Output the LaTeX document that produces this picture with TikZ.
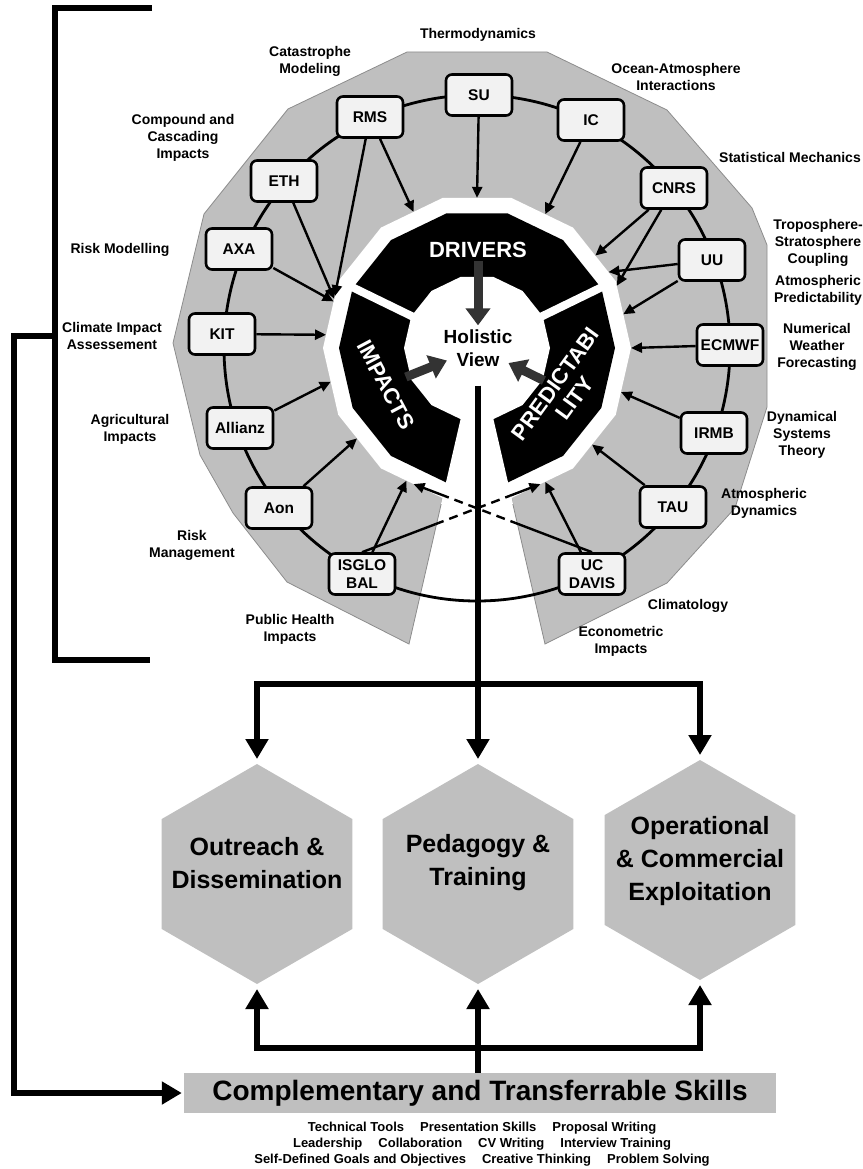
\documentclass[tikz,border=0pt]{standalone}
\usepackage{fontspec}
\setmainfont{Liberation Sans}
\usetikzlibrary{arrows.meta,shapes.geometric,calc}
\definecolor{ringgray}{HTML}{BFBFBF}
\definecolor{edgegray}{HTML}{8C8C8C}
\definecolor{partnerfill}{HTML}{F2F2F2}
\definecolor{hubgray}{HTML}{333333}
\newcommand{\skillgap}{\hspace{16pt}}

\begin{document}
\begin{tikzpicture}[x=1pt, y=1pt,
    partner/.style={rectangle, draw, line width=2.6pt, fill=partnerfill, rounded corners=6pt,
        minimum width=66pt, minimum height=41pt, inner sep=2pt, align=center,
        font=\bfseries\fontsize{15.5}{18}\selectfont},
    topic/.style={align=center, font=\bfseries\fontsize{14}{17}\selectfont},
    poly/.style={regular polygon, regular polygon sides=14, inner sep=0pt, outer sep=0pt},
    sector/.style={text=white, align=center, font=\bfseries\fontsize{22}{24}\selectfont},
    link/.style={line width=2.4pt, -{Triangle[length=11pt, width=10pt]}},
    hubarrow/.style={draw=hubgray, line width=9pt, -{Triangle[length=17pt, width=24pt]}},
    flow/.style={line width=6pt},
    flowarrow/.style={flow, -{Triangle[length=20pt, width=22pt]}, shorten >=5pt},
    outcome/.style={regular polygon, regular polygon sides=6, shape border rotate=30,
        minimum size=220pt, fill=ringgray, inner sep=0pt, outer sep=0pt},
    outcometext/.style={align=center, font=\bfseries\fontsize{25}{33}\selectfont}]
    \useasboundingbox (0,0) rectangle (862,-1169);
    \coordinate (ctr) at (477,-348);

    % Gray ring with the cut at the bottom
    \filldraw[fill=ringgray, draw=edgegray, line width=0.8pt] (ctr) -- (545,-644) -- (667,-583) -- (735,-508)
        -- (767,-407) -- (767,-245) -- (752,-208) -- (667,-110) -- (547,-52) -- (407,-52) -- (288,-109)
        -- (204,-214) -- (173,-343) -- (200,-455) -- (233,-513) -- (287,-582) -- (409,-644) -- cycle;
    \draw[line width=2.8pt] (ctr) circle[radius=253];

    % Core: drivers, impacts, predictability
    \node[poly, minimum size=308pt, fill=white] (polyW) at (ctr) {};
    \node[poly, minimum size=276pt, fill=black] (polyB) at (ctr) {};
    \fill[white] (ctr) -- ++(-103:160) -- ($(ctr)+(-77:160)$) -- cycle;
    \node[poly, minimum size=146pt, fill=white] (polyC) at (ctr) {};
    \draw[white, line width=8pt] (ctr) -- ++(154:146);
    \draw[white, line width=8pt] (ctr) -- ++(26:146);

    \node[sector] (drivers) at (478,-250) {DRIVERS};
    \node[sector, rotate=-62] (impacts) at (386,-385) {IMPACTS};
    \node[sector, rotate=54] (predict) at (565,-391) {PREDICTABI\\LITY};
    \node[align=center, inner sep=4pt, font=\bfseries\fontsize{19}{23}\selectfont] (holistic) at (478,-348) {Holistic\\View};

    \draw[hubarrow] (drivers) -- (holistic);
    \draw[hubarrow, shorten <=10pt, shorten >=-8pt] (impacts) -- (holistic);
    \draw[hubarrow, shorten >=-9pt] (predict) -- (holistic);

    % Partners
    \node[partner] (su) at (479,-95) {SU};
    \node[partner] (rms) at (370,-117) {RMS};
    \node[partner] (ic) at (591,-120) {IC};
    \node[partner] (eth) at (284,-181) {ETH};
    \node[partner] (axa) at (239,-249) {AXA};
    \node[partner] (kit) at (222,-334) {KIT};
    \node[partner] (allianz) at (240,-428) {Allianz};
    \node[partner] (aon) at (279,-508) {Aon};
    \node[partner] (isglobal) at (362,-574) {ISGLO\\BAL};
    \node[partner] (cnrs) at (674,-188) {CNRS};
    \node[partner] (uu) at (712,-260) {UU};
    \node[partner] (ecmwf) at (730,-345) {ECMWF};
    \node[partner] (irmb) at (714,-433) {IRMB};
    \node[partner] (tau) at (673,-507) {TAU};
    \node[partner] (ucdavis) at (592,-574) {UC\\DAVIS};

    \draw[link] (su) -- (polyW.90);
    \draw[link] (rms) -- (polyW.115);
    \draw[link] (rms) -- (polyW.160);
    \draw[link] (eth) -- (polyW.161);
    \draw[link] (axa) -- (polyW.162);
    \draw[link] (kit) -- (polyW.175);
    \draw[link] (allianz) -- (polyW.193);
    \draw[link] (aon) -- (polyW.217);
    \draw[link] (isglobal) -- (polyW.242);
    \draw[link] (ic) -- (polyW.63);
    \draw[link] (cnrs) -- (polyW.38);
    \draw[link] (cnrs) -- (polyW.24);
    \draw[link] (uu) -- (polyW.30);
    \draw[link] (uu) -- (polyW.13);
    \draw[link] (ecmwf) -- (polyW.0);
    \draw[link] (irmb) -- (polyW.-17);
    \draw[link] (tau) -- (polyW.-40);
    \draw[link] (ucdavis) -- (polyW.-63);

    % Crossing links over the gap
    \coordinate (isgA) at ($(isglobal.north)!0.41!(polyW.-65)$);
    \coordinate (isgB) at ($(isglobal.north)!0.83!(polyW.-65)$);
    \coordinate (ucdA) at ($(ucdavis.north)!0.41!(polyW.245)$);
    \coordinate (ucdB) at ($(ucdavis.north)!0.83!(polyW.245)$);
    \draw[line width=2.4pt] (isglobal.north) -- (isgA);
    \draw[line width=2.4pt, dash pattern=on 9pt off 6pt] (isgA) -- (isgB);
    \draw[link] (isgB) -- (polyW.-65);
    \draw[line width=2.4pt] (ucdavis.north) -- (ucdA);
    \draw[line width=2.4pt, dash pattern=on 9pt off 6pt] (ucdA) -- (ucdB);
    \draw[link] (ucdB) -- (polyW.245);

    % Research topics
    \node[topic] (tthermo) at (478,-35) {Thermodynamics};
    \node[topic] (tcat) at (310,-61) {Catastrophe\\Modeling};
    \node[topic] (tocean) at (676,-77) {Ocean-Atmosphere\\Interactions};
    \node[topic] (tstat) at (790,-157) {Statistical Mechanics};
    \node[topic] (tcomp) at (183,-138) {Compound and\\Cascading\\Impacts};
    \node[topic] (trisk) at (120,-250) {Risk Modelling};
    \node[topic] (tclim) at (112,-336) {Climate Impact\\Assessement};
    \node[topic] (tagri) at (130,-429) {Agricultural\\Impacts};
    \node[topic] (tman) at (192,-545) {Risk\\Management};
    \node[topic] (thealth) at (290,-629) {Public Health\\Impacts};
    \node[topic] (tecon) at (621,-641) {Econometric\\Impacts};
    \node[topic] (tclimat) at (688,-606) {Climatology};
    \node[topic] (tdyn) at (764,-503) {Atmospheric\\Dynamics};
    \node[topic] (tsys) at (802,-435) {Dynamical\\Systems\\Theory};
    \node[topic] (tnwf) at (817,-347) {Numerical\\Weather\\Forecasting};
    \node[topic] (tpred) at (818,-290) {Atmospheric\\Predictability};
    \node[topic] (ttrop) at (818,-243) {Troposphere-\\Stratosphere\\Coupling};

    % Outcomes
    \node[outcome] (outreach) at (257,-874) {};
    \node[outcome] (pedagogy) at (478,-874) {};
    \node[outcome] (operational) at (700,-870) {};
    \node[outcometext] (outreachtxt) at ([yshift=11pt]outreach.center) {Outreach \&\\Dissemination};
    \node[outcometext] (pedagogytxt) at ([yshift=11pt]pedagogy.center) {Pedagogy \&\\Training};
    \node[outcometext] (operationaltxt) at ([yshift=9pt]operational.center) {Operational\\\& Commercial\\Exploitation};

    \coordinate (hub) at (478,-684);
    \draw[flow, shorten <=15pt] (holistic.south) -- (hub);
    \draw[flowarrow] (hub) -| (outreach);
    \draw[flowarrow] (hub) -- (pedagogy);
    \draw[flowarrow] (hub) -| (operational);

    % Skills
    \node[rectangle, fill=ringgray, minimum width=592pt, minimum height=40pt, inner sep=0pt,
        font=\bfseries\fontsize{28}{30}\selectfont] (skills) at (480,-1093) {Complementary and Transferrable Skills};
    \node[align=center, font=\bfseries\fontsize{13}{16}\selectfont] (skilllist) at (482,-1144)
        {Technical Tools\skillgap Presentation Skills\skillgap Proposal Writing\\
         Leadership\skillgap Collaboration\skillgap CV Writing\skillgap Interview Training\\
         Self-Defined Goals and Objectives\skillgap Creative Thinking\skillgap Problem Solving};

    \coordinate (skillhub) at (478,-1048);
    \draw[flowarrow] (skills.north -| pedagogy) -- (pedagogy);
    \draw[flowarrow] (skillhub) -| (outreach);
    \draw[flowarrow] (skillhub) -| (operational);

    % Bracket round the ring
    \coordinate (brk) at (55,-336);
    \coordinate (corner) at (14,-1093);
    \draw[line width=5.5pt] (152,-8) -| (55,-660) -- (150,-660);
    \draw[line width=5.5pt, -{Triangle[length=20pt, width=22pt]}, shorten >=2pt] (brk) -| (corner) -- (skills);
\end{tikzpicture}
\end{document}
